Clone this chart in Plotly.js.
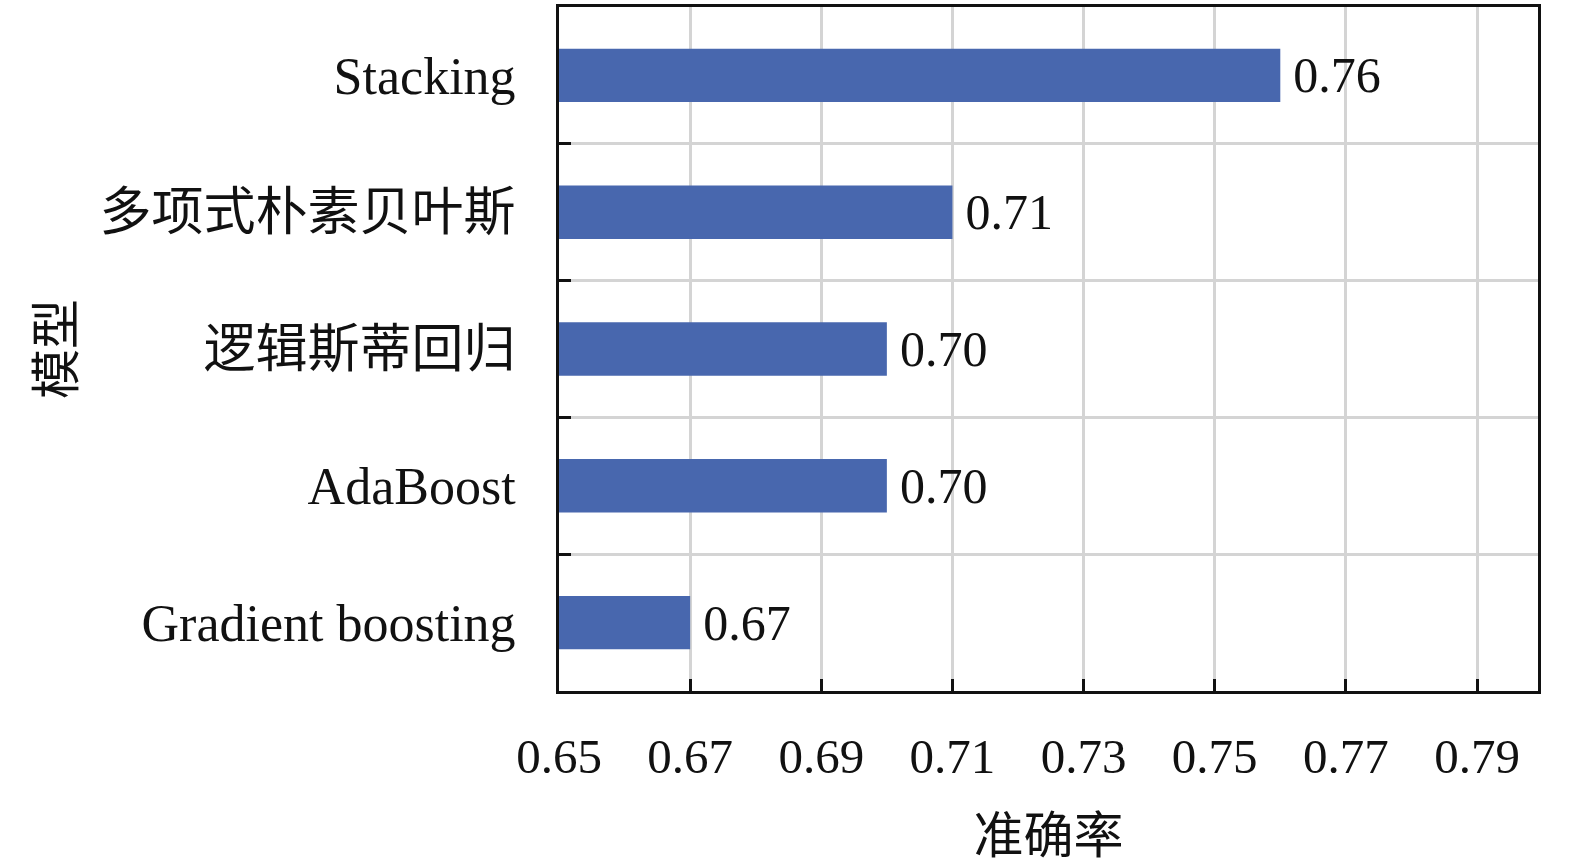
<!DOCTYPE html>
<html>
<head>
<meta charset="utf-8">
<script src="https://cdn.plot.ly/plotly-3.0.1.min.js"></script>
<style>
  html, body { margin: 0; padding: 0; background: #fff; }
  #acc_plot { width: 1575px; height: 868px; }
</style>
</head>
<body>
<div id="acc_plot"></div>
<script>
// model names and accuracy values, top to bottom
var models = ['Stacking', '多项式朴素贝叶斯', '逻辑斯蒂回归', 'AdaBoost', 'Gradient boosting'];
var accuracy = [0.76, 0.71, 0.70, 0.70, 0.67];
var labels = ['0.76', '0.71', '0.70', '0.70', '0.67'];
var xticks = [0.65, 0.67, 0.69, 0.71, 0.73, 0.75, 0.77, 0.79];

var fontFam = '"Liberation Serif", "Times New Roman", "Noto Sans CJK SC", serif';

var trace1 = {
    y: models,
    x: accuracy,
    text: labels,
    texttemplate: '\u2009%{text}',
    type: 'bar',
    orientation: 'h',
    width: 0.39,
    marker: { color: '#4867ae' },
    textposition: 'outside',
    constraintext: 'none',
    textfont: { family: fontFam, size: 50, color: '#111' },
    cliponaxis: false,
    hoverinfo: 'x+y'
  };

var layout = {
    width: 1575,
    height: 868,
    margin: { l: 559, r: 37, t: 7, b: 177 },
    paper_bgcolor: '#fff',
    plot_bgcolor: '#fff',
    font: { family: fontFam, size: 48, color: '#111' },
    showlegend: false,
    xaxis: {
        range: [0.65, 0.7993],
        tickvals: xticks,
        ticktext: xticks.map(v => v.toFixed(2)),
        ticks: 'inside',
        ticklen: 12,
        tickwidth: 3,
        tickcolor: '#111',
        showline: true,
        mirror: true,
        linecolor: '#111',
        linewidth: 3,
        showgrid: true,
        gridcolor: '#d4d4d4',
        gridwidth: 3,
        zeroline: false,
        ticklabelstandoff: 20,
        tickfont: { size: 49 },
        title: { text: '准确率', font: { size: 50 }, standoff: 36 }
    },
    yaxis: {
        type: 'category',
        autorange: 'reversed',
        tickson: 'boundaries',
        ticks: 'inside',
        ticklen: 12,
        tickwidth: 3,
        tickcolor: '#111',
        showline: true,
        mirror: true,
        linecolor: '#111',
        linewidth: 3,
        showgrid: true,
        gridcolor: '#d4d4d4',
        gridwidth: 3,
        ticklabelstandoff: 30,
        tickfont: { size: 52 },
        title: { text: '模型', font: { size: 50 }, standoff: 10 }
    }
  };

Plotly.newPlot('acc_plot', [trace1], layout, { displayModeBar: false });
</script>
</body>
</html>
